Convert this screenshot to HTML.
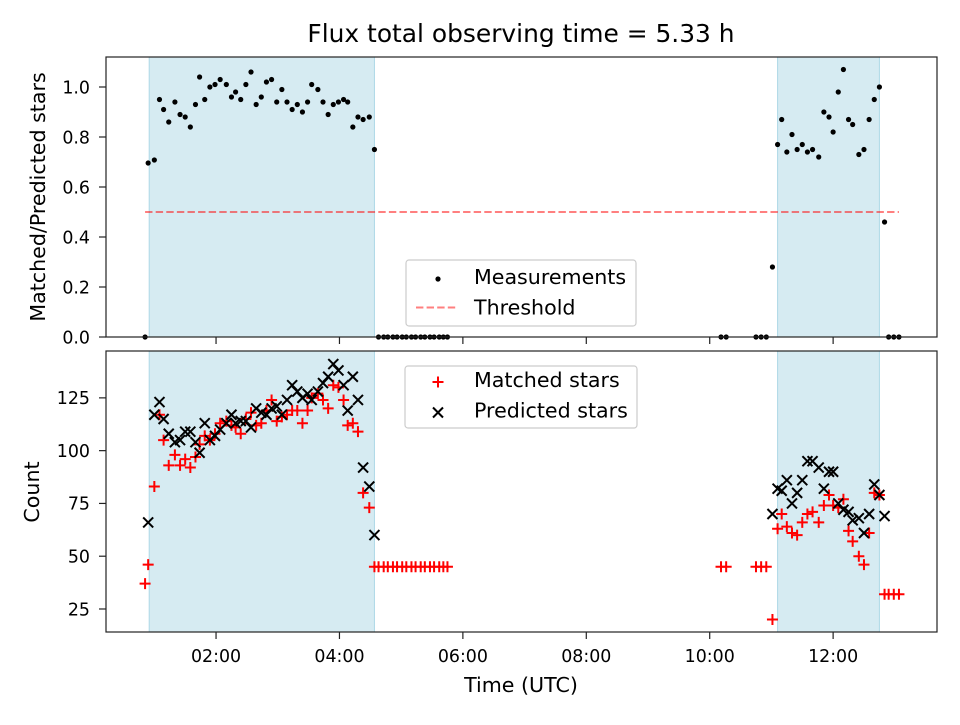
<!DOCTYPE html>
<html><head><meta charset="utf-8"><style>
body{margin:0;background:#fff}
svg{font-family:"DejaVu Sans","Liberation Sans",sans-serif}
</style></head><body>
<svg id="c" width="960" height="720"></svg>
<script>
const tRatio=[51,54,60,65,69,74,80,85,90,95,100,104,109,114,119,124,130,135,139,144,149,154,159,164,169,174,179,184,189,194,199,204,209,213,219,224,229,234,239,244,248,253,258,263,269,274,278,283,287,292,296,301,305,310,314,319,323,328,332,337,341,345,611,616,645,650,655,661,666,670,675,680,685,690,695,700,706,711,716,720,725,730,735,739,745,750,755,760,765,770,774,779,784];
const ratio=[0,.696,.708,.95,.91,.86,.94,.89,.88,.84,.93,1.04,.95,1.0,1.01,1.03,1.01,.96,.98,.95,1.01,1.06,.93,.96,1.02,1.03,.94,.99,.94,.91,.93,.90,.94,1.01,.99,.94,.89,.93,.94,.95,.94,.84,.88,.87,.88,.75,0,0,0,0,0,0,0,0,0,0,0,0,0,0,0,0,0,0,0,0,0,.28,.77,.87,.74,.81,.75,.77,.74,.75,.72,.90,.88,.82,.98,1.07,.87,.85,.73,.75,.87,.95,1.0,.46,0,0,0];
const matched=[37,46,83,117,105,93,98,93,96,92,97,103,107,105,108,113,114,112,111,108,115,118,112,113,119,124,114,116,117,119,119,113,119,125,127,124,120,131,130,124,112,113,109,80,73,45,45,45,45,45,45,45,45,45,45,45,45,45,45,45,45,45,45,45,45,45,45,20,63,70,64,61,60,66,70,71,66,74,79,74,73,77,62,57,50,46,61,80,79,32,32,32,32];
const predicted=[null,66,117,123,115,108,104,105,109,109,104,99,113,105,107,110,113,117,113,114,114,111,120,118,117,120,121,117,124,131,128,125,127,124,128,132,135,141,138,131,119,135,124,92,83,60,null,null,null,null,null,null,null,null,null,null,null,null,null,null,null,null,null,null,null,null,null,70,82,81,86,75,80,86,95,95,92,82,90,90,75,72,71,67,68,61,70,84,79,69,null,null,null];
const spans=[[55,274],[666,765]];
const threshold=0.5;
const xTicks=[120,240,360,480,600,720];
const xTickLabels=["02:00","04:00","06:00","08:00","10:00","12:00"];
const yTopTicks=[0,0.2,0.4,0.6,0.8,1.0];
const yBotTicks=[25,50,75,100,125];

const NS="http://www.w3.org/2000/svg",svg=document.getElementById('c');
function el(tag,a,p){const e=document.createElementNS(NS,tag);for(const k in a)e.setAttribute(k,a[k]);(p||svg).appendChild(e);return e;}
const L=106,R=937,T1=57,B1=337,T2=351,B2=632;
const FS='17.4', LS='20.6';
const x=m=>L+(m-13)/(821-13)*(R-L);
const y1=v=>B1-v/1.12*(B1-T1);
const y2=v=>B2-(v-14.1)/(147.2-14.1)*(B2-T2);

let t=el('text',{x:521,y:42,'text-anchor':'middle','font-size':'24.9'});t.textContent='Flux total observing time = 5.33 h';



function panel(T,B,name){
  const g=el('g',{});
  
  
  spans.forEach(s=>{const r=el('rect',{x:x(s[0]),y:T,width:x(s[1])-x(s[0]),height:B-T,fill:'#add8e6','fill-opacity':0.5,stroke:'#add8e6'},g);
    
    });
  return g;
}
function frame(T,B,g,ticks,yf,labels,fmt){
  el('rect',{x:L,y:T,width:R-L,height:B-T,fill:'none',stroke:'#222','stroke-width':1.2},g);
  xTicks.forEach((m,i)=>{el('line',{x1:x(m),x2:x(m),y1:B,y2:B+7,stroke:'#222','stroke-width':1.2},g);
    if(labels){const tx=el('text',{x:x(m),y:B+30,'text-anchor':'middle','font-size':FS},g);tx.textContent=xTickLabels[i];
      
      }});
  ticks.forEach(v=>{el('line',{x1:L-7,x2:L,y1:yf(v),y2:yf(v),stroke:'#222','stroke-width':1.2},g);
    const tx=el('text',{x:L-16,y:yf(v)+6.3,'text-anchor':'end','font-size':FS},g);tx.textContent=fmt(v);
    
    });
}
const g1=panel(T1,B1,'ratio-panel');
el('line',{x1:x(51),x2:x(784),y1:y1(threshold),y2:y1(threshold),stroke:'#ff0000','stroke-opacity':0.5,'stroke-width':2,'stroke-dasharray':'7.4,3.2'},g1);
tRatio.forEach((m,i)=>{const c=el('circle',{cx:x(m),cy:y1(ratio[i]),r:2.6,fill:'#000'},g1);
  
  });
frame(T1,B1,g1,yTopTicks,y1,false,v=>v.toFixed(1));
const g2=panel(T2,B2,'count-panel');
function plus(cx,cy,g){return el('path',{d:`M${cx-5.5} ${cy}H${cx+5.5}M${cx} ${cy-5.5}V${cy+5.5}`,stroke:'#ff0000','stroke-width':2},g);}
function cross(cx,cy,g){return el('path',{d:`M${cx-5} ${cy-5}L${cx+5} ${cy+5}M${cx-5} ${cy+5}L${cx+5} ${cy-5}`,stroke:'#000','stroke-width':2},g);}
tRatio.forEach((m,i)=>{if(matched[i]!=null){const p=plus(x(m),y2(matched[i]),g2);
  
  }});
tRatio.forEach((m,i)=>{if(predicted[i]!=null){const p=cross(x(m),y2(predicted[i]),g2);
  
  }});
frame(T2,B2,g2,yBotTicks,y2,true,v=>String(v));
let a=el('text',{x:521,y:692,'text-anchor':'middle','font-size':LS});a.textContent='Time (UTC)';


a=el('text',{transform:'translate(45,197) rotate(-90)','text-anchor':'middle','font-size':LS});a.textContent='Matched/Predicted stars';


a=el('text',{transform:'translate(39,492) rotate(-90)','text-anchor':'middle','font-size':LS});a.textContent='Count';


function legend(x0,y0,w,h,first,items,name){
  const g=el('g',{});
  
  
  el('rect',{x:x0,y:y0,width:w,height:h,rx:3,fill:'#fff','fill-opacity':0.8,stroke:'#ccc','stroke-width':1.2},g);
  items.forEach((it,i)=>{const cy=y0+first+i*30.5;it.draw(438,cy,g);
    const tx=el('text',{x:474,y:cy+7,'font-size':LS},g);tx.textContent=it.label;
    
    });
}
legend(406,260,230,66,17,[
 {label:'Measurements',draw:(cx,cy,g)=>el('circle',{cx:cx,cy:cy+2,r:2.6,fill:'#000'},g)},
 {label:'Threshold',draw:(cx,cy,g)=>el('line',{x1:416,x2:458,y1:cy,y2:cy,stroke:'#ff0000','stroke-opacity':0.5,'stroke-width':2,'stroke-dasharray':'7.4,3.2'},g)}
],'top-legend');
legend(405,366,232,62,14,[
 {label:'Matched stars',draw:(cx,cy,g)=>plus(cx,cy+2,g)},
 {label:'Predicted stars',draw:(cx,cy,g)=>cross(cx,cy+2,g)}
],'bottom-legend');
</script>
</body></html>
